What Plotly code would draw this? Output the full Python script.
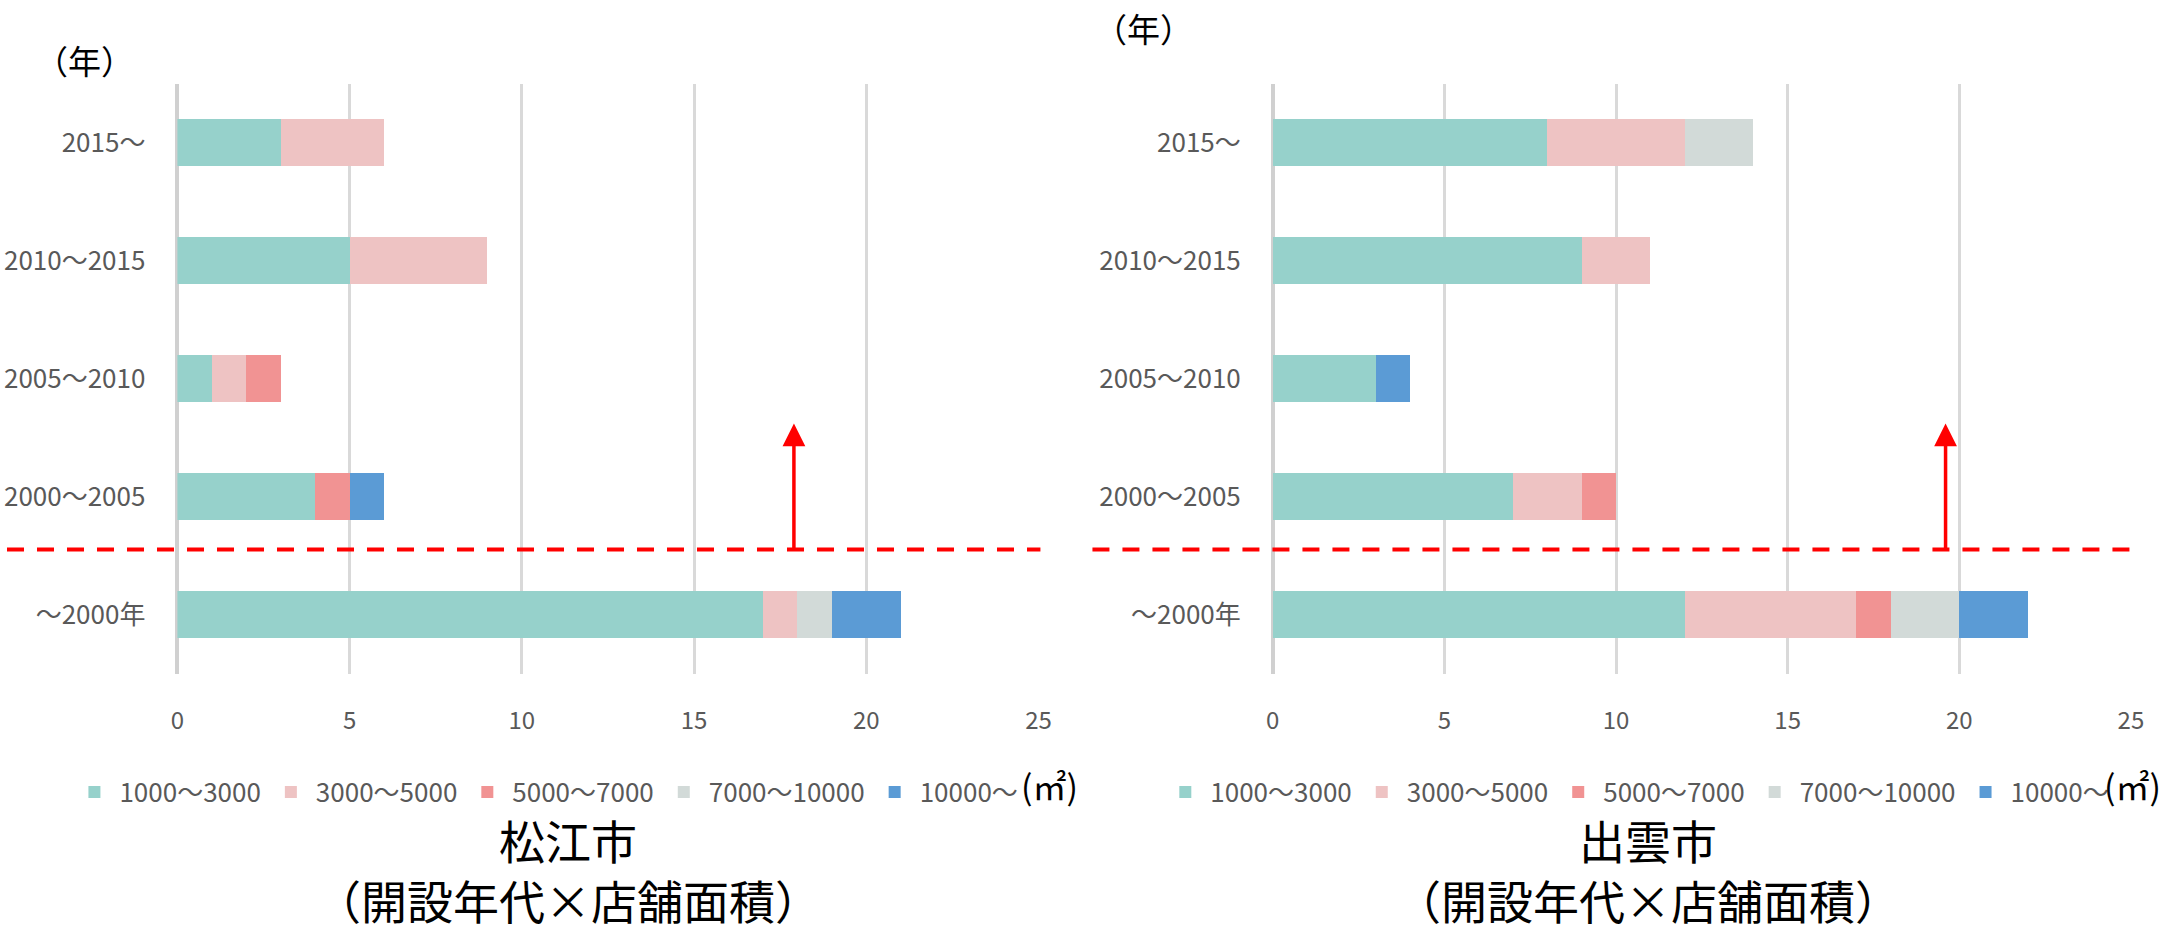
import plotly.graph_objects as go

# Opening period categories (bottom to top)
periods = ["～2000年", "2000～2005", "2005～2010", "2010～2015", "2015～"]

# Floor-area classes (m²)
size_classes = ["1000～3000", "3000～5000", "5000～7000", "7000～10000", "10000～"]
class_colors = ["#96D1CB", "#EEC3C3", "#F19393", "#D2DAD8", "#5B9BD5"]

# 松江市: store counts per floor-area class, one value per period
matsue_1000_3000 = [17, 4, 1, 5, 3]
matsue_3000_5000 = [1, 0, 1, 4, 3]
matsue_5000_7000 = [0, 1, 1, 0, 0]
matsue_7000_10000 = [1, 0, 0, 0, 0]
matsue_10000_up = [2, 1, 0, 0, 0]

# 出雲市
izumo_1000_3000 = [12, 7, 3, 9, 8]
izumo_3000_5000 = [5, 2, 0, 2, 4]
izumo_5000_7000 = [1, 1, 0, 0, 0]
izumo_7000_10000 = [2, 0, 0, 0, 2]
izumo_10000_up = [2, 0, 1, 0, 0]

matsue = [matsue_1000_3000, matsue_3000_5000, matsue_5000_7000,
          matsue_7000_10000, matsue_10000_up]
izumo = [izumo_1000_3000, izumo_3000_5000, izumo_5000_7000,
         izumo_7000_10000, izumo_10000_up]

# Divider between before/after 2000 and the upward arrows
divider_y = 0.55
arrow_top_y = 1.62
matsue_arrow_x = 17.9
izumo_arrow_x = 19.6

W, H = 2179, 931
FONT = "Noto Sans CJK JP"
GREY_TEXT = "#595959"
GRID = "#D9D9D9"


def px_x(p):
    return p / W


def px_y(p):
    return (H - p) / H


fig = go.Figure()

for city, axes, leg in [(matsue, ("x", "y"), "legend"), (izumo, ("x2", "y2"), "legend2")]:
    for name, color, vals in zip(size_classes, class_colors, city):
        fig.add_trace(go.Bar(
            x=vals, y=periods, orientation="h", name=name,
            marker=dict(color=color, line=dict(width=0)),
            xaxis=axes[0], yaxis=axes[1], legend=leg,
            hoverinfo="skip",
        ))

y_domain = [px_y(673.5), px_y(83.6)]

x_common = dict(
    range=[0, 25], dtick=5, tick0=0, showgrid=True, gridcolor=GRID, gridwidth=2.5,
    zeroline=True, zerolinecolor="#D0D0D0", zerolinewidth=4, showline=False,
    ticks="", ticklabelstandoff=30,
    tickfont=dict(family=FONT, size=24, color=GREY_TEXT), fixedrange=True,
)
y_common = dict(
    type="category", categoryorder="array", categoryarray=periods,
    range=[-0.5, 4.5], domain=y_domain, showgrid=False, zeroline=False,
    showline=False, ticks="", ticklabelstandoff=31,
    tickfont=dict(family=FONT, size=26, color=GREY_TEXT), fixedrange=True,
)

legend_common = dict(
    orientation="h", yanchor="middle", xanchor="left", y=px_y(792),
    font=dict(family=FONT, size=26, color=GREY_TEXT),
    bgcolor="rgba(0,0,0,0)", itemwidth=40, traceorder="normal",
)

fig.update_layout(
    width=W, height=H, autosize=False,
    margin=dict(l=0, r=0, t=0, b=0),
    paper_bgcolor="white", plot_bgcolor="white",
    barmode="stack", bargap=0.6,
    xaxis=dict(domain=[px_x(172), px_x(1041)], anchor="y", **x_common),
    yaxis=dict(anchor="x", **y_common),
    xaxis2=dict(domain=[px_x(1277.5), px_x(2143.6)], anchor="y2", **x_common),
    yaxis2=dict(anchor="x2", **y_common),
    legend=dict(x=px_x(63), **legend_common),
    legend2=dict(x=px_x(1164), **legend_common),
    showlegend=True,
)

# Dashed divider lines
fig.add_shape(type="line", xref="paper", yref="y", x0=0, x1=px_x(1043),
              y0=divider_y, y1=divider_y,
              line=dict(color="#FF0000", width=4, dash="17px,13px"))
fig.add_shape(type="line", xref="paper", yref="y2", x0=px_x(1095.5), x1=px_x(2143.6),
              y0=divider_y, y1=divider_y,
              line=dict(color="#FF0000", width=4, dash="17px,13px"))

# Upward arrows
for xr, yr, ax_x in [("x", "y", matsue_arrow_x), ("x2", "y2", izumo_arrow_x)]:
    fig.add_annotation(
        x=ax_x, y=arrow_top_y, ax=ax_x, ay=divider_y,
        xref=xr, yref=yr, axref=xr, ayref=yr,
        text="", showarrow=True, arrowhead=2, arrowsize=1.3,
        arrowwidth=3.5, arrowcolor="#FF0000", standoff=0, startstandoff=0,
    )


def text_at(cx, cy, text, size, xanchor="center"):
    fig.add_annotation(x=px_x(cx), y=px_y(cy), xref="paper", yref="paper",
                       xanchor=xanchor, yanchor="middle", text=text,
                       showarrow=False,
                       font=dict(family=FONT, size=size, color="black"))


# Axis unit labels
text_at(78, 60, "（年）", 33)
text_at(1147, 28, "（年）", 33)
text_at(1021, 785, "(㎡)", 34, xanchor="left")
text_at(2114, 785, "(㎡)", 34, xanchor="left")

# City titles (two lines each)
for cx, city_name in [(566, "松江市"), (1656, "出雲市")]:
    text_at(cx, 869, city_name + "<br>（開設年代×店舗面積）", 46)

fig.write_html("out.html", config=dict(displayModeBar=False))
